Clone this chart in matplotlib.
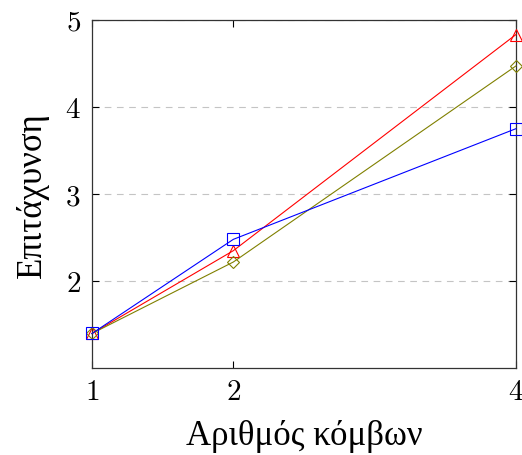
import matplotlib.pyplot as plt

plt.rcParams['mathtext.fontset'] = 'cm'
plt.rcParams['font.family'] = ['Liberation Serif', 'DejaVu Serif']

# data
nodes = [1, 2, 4]
speedup_red = [1.40, 2.35, 4.83]
speedup_blue = [1.40, 2.48, 3.75]
speedup_olive = [1.40, 2.22, 4.47]
xtick_labels = ['$1$', '$2$', '$4$']
ytick_vals = [2, 3, 4, 5]
ytick_labels = ['$2$', '$3$', '$4$', '$5$']

fig = plt.figure(figsize=(5.22, 4.56), dpi=100)
ax = fig.add_axes([0.1762, 0.19, 0.8123, 0.7646])

olive = (0.5, 0.5, 0)
ax.plot(nodes, speedup_red, color='red', lw=0.8, marker='^', ms=8,
        mfc='none', mec='red', mew=0.8, clip_on=False, zorder=3)
ax.plot(nodes, speedup_olive, color=olive, lw=0.8, marker='D', ms=6,
        mfc='none', mec=olive, mew=0.8, clip_on=False, zorder=3)
ax.plot(nodes, speedup_blue, color='blue', lw=0.8, marker='s', ms=8,
        mfc='none', mec='blue', mew=0.8, clip_on=False, zorder=3)

ax.set_xlim(1, 4)
ax.set_ylim(1, 5)
ax.set_xticks(nodes)
ax.set_xticklabels(xtick_labels, fontsize=21)
ax.set_yticks(ytick_vals)
ax.set_yticklabels(ytick_labels, fontsize=21)
ax.tick_params(direction='in', top=True, right=True, length=5, width=0.8, pad=8)

ax.grid(axis='y', linestyle=(0, (6, 5)), color='#c4c4c4', lw=0.8)
for s in ax.spines.values():
    s.set_linewidth(0.9)
    s.set_color('#333333')

ax.set_xlabel('Αριθμός κόμβων', fontsize=25, labelpad=10)
ax.set_ylabel('Επιτάχυνση', fontsize=25, labelpad=12)

fig.savefig('out.png', dpi=100)
